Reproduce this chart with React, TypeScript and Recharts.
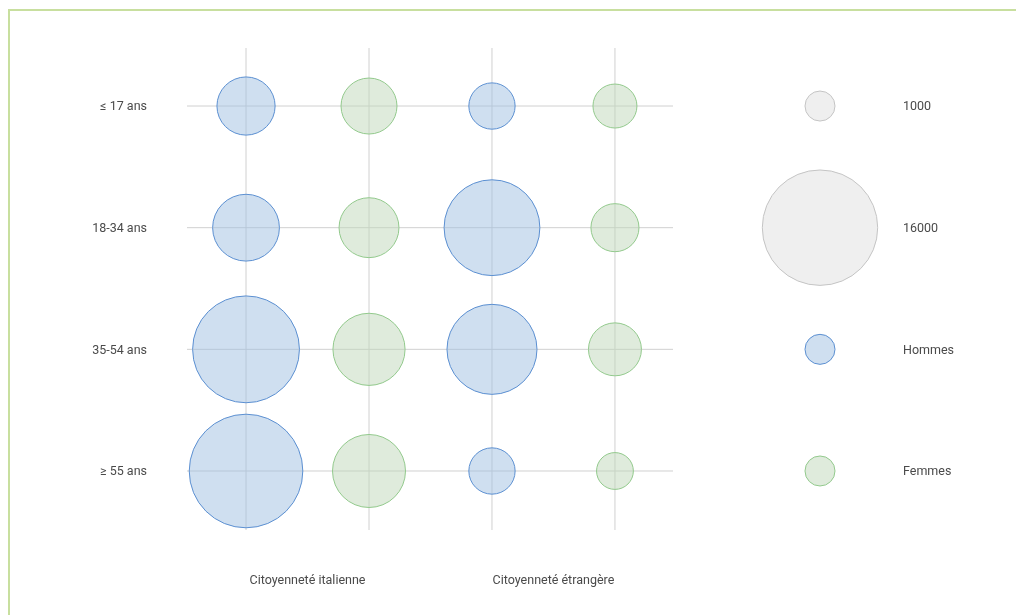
import React from "react";
import {
  ScatterChart,
  Scatter,
  XAxis,
  YAxis,
  ZAxis,
  ReferenceLine,
  Cell,
} from "recharts";

// rows (top to bottom)
const ageGroups = ["≤ 17 ans", "18-34 ans", "35-54 ans", "≥ 55 ans"];

// groups shown under the grid
const citizenship = ["Citoyenneté italienne", "Citoyenneté étrangère"];

// values per age group
const hommesItaliens = [4000, 5300, 13700, 15500];
const femmesItaliennes = [3700, 4250, 6200, 6350];
const hommesEtrangers = [2500, 11000, 9700, 2500];
const femmesEtrangeres = [2250, 2700, 3300, 1550];

// legend on the right
const legendLabels = ["1000", "16000", "Hommes", "Femmes"];
const legendValues = [1000, 16000, 1000, 1000];
const legendKinds = ["size", "size", "hommes", "femmes"];

const columns = [0, 1, 2, 3];

const COLORS: Record<string, { fill: string; stroke: string }> = {
  hommes: { fill: "#a0c0e2", stroke: "#5b8fd1" },
  femmes: { fill: "#c0d8ba", stroke: "#92c98c" },
  size: { fill: "#dfdfdf", stroke: "#c4c4c4" },
};

const hommesData = ageGroups.flatMap((_, row) => [
  { col: 0, row, value: hommesItaliens[row] },
  { col: 2, row, value: hommesEtrangers[row] },
]);

const femmesData = ageGroups.flatMap((_, row) => [
  { col: 1, row, value: femmesItaliennes[row] },
  { col: 3, row, value: femmesEtrangeres[row] },
]);

const legendData = legendLabels.map((label, row) => ({
  col: 0.5,
  row,
  value: legendValues[row],
  kind: legendKinds[row],
}));

const tickStyle = { fill: "#4a4a4a", fontSize: 12.5, fontFamily: "Roboto" };
const Y_DOMAIN: [number, number] = [-0.477, 3.485];
const Z_DOMAIN: [number, number] = [0, 16000];
const Z_RANGE: [number, number] = [57, 10459];

export default function App() {
  return (
    <div
      style={{
        position: "fixed",
        left: 8,
        top: 8,
        right: 0,
        bottom: 0,
        overflow: "hidden",
        fontFamily: "Roboto",
      }}
    >
      <div
        style={{
          position: "absolute",
          left: 0,
          top: 1,
          right: 0,
          bottom: 0,
          borderTop: "2px solid #c8df9f",
          borderLeft: "2px solid #c8df9f",
        }}
      />

      <div style={{ position: "absolute", left: 0, top: 0 }}>
        <ScatterChart
          width={700}
          height={600}
          margin={{ top: 40, right: 35, bottom: 0, left: 0 }}
        >
          <XAxis
            type="number"
            dataKey="col"
            domain={[-0.48, 3.472]}
            ticks={[0.5, 2.5]}
            tickFormatter={(v: number) => citizenship[Math.floor(v / 2)]}
            height={78}
            axisLine={false}
            tickLine={false}
            tickSize={0}
            tickMargin={45}
            tick={tickStyle}
            interval={0}
          />
          <YAxis
            type="number"
            dataKey="row"
            domain={Y_DOMAIN}
            reversed
            ticks={[0, 1, 2, 3]}
            tickFormatter={(v: number) => ageGroups[v]}
            width={179}
            axisLine={false}
            tickLine={false}
            tickSize={0}
            tickMargin={40}
            tick={tickStyle}
            interval={0}
          />
          <ZAxis type="number" dataKey="value" domain={Z_DOMAIN} range={Z_RANGE} />

          {columns.map((c) => (
            <ReferenceLine key={"v" + c} x={c} stroke="#d0d0d0" />
          ))}
          {ageGroups.map((_, r) => (
            <ReferenceLine key={"h" + r} y={r} stroke="#d0d0d0" />
          ))}

          <Scatter
            data={hommesData}
            fill={COLORS.hommes.fill}
            fillOpacity={0.5}
            stroke={COLORS.hommes.stroke}
            strokeWidth={1}
            isAnimationActive={false}
          />
          <Scatter
            data={femmesData}
            fill={COLORS.femmes.fill}
            fillOpacity={0.5}
            stroke={COLORS.femmes.stroke}
            strokeWidth={1}
            isAnimationActive={false}
          />
        </ScatterChart>
      </div>

      <div style={{ position: "absolute", left: 700, top: 0 }}>
        <ScatterChart
          width={300}
          height={600}
          margin={{ top: 40, right: 0, bottom: 78, left: 62 }}
        >
          <XAxis type="number" dataKey="col" domain={[0, 1]} hide />
          <YAxis
            type="number"
            dataKey="row"
            orientation="right"
            domain={Y_DOMAIN}
            reversed
            ticks={[0, 1, 2, 3]}
            tickFormatter={(v: number) => legendLabels[v]}
            width={138}
            axisLine={false}
            tickLine={false}
            tickSize={0}
            tickMargin={33}
            tick={tickStyle}
            interval={0}
          />
          <ZAxis type="number" dataKey="value" domain={Z_DOMAIN} range={Z_RANGE} />
          <Scatter data={legendData} fillOpacity={0.5} isAnimationActive={false}>
            {legendData.map((d, i) => (
              <Cell
                key={i}
                fill={COLORS[d.kind].fill}
                stroke={COLORS[d.kind].stroke}
                strokeWidth={1}
              />
            ))}
          </Scatter>
        </ScatterChart>
      </div>
    </div>
  );
}
